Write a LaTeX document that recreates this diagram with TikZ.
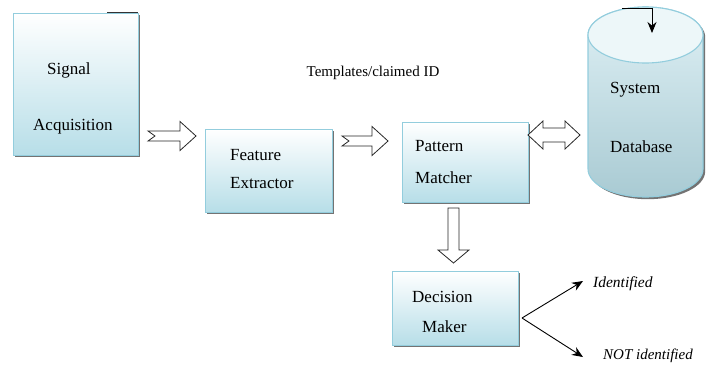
\documentclass[tikz,border=0pt]{standalone}
\usepackage{fontspec}
\setmainfont{Liberation Serif}
\usetikzlibrary{calc,shadows,arrows.meta}
\definecolor{boxblue}{HTML}{B7DEE8}
\definecolor{edgeblue}{HTML}{93CDDD}
\newcommand{\notchedarrow}[2]{%
  \draw[hollow] let \p1=(#1), \p2=(#2) in
    (\x1,\y1+5pt) -- (\x2-16pt,\y1+5pt) -- (\x2-16pt,\y1+14.5pt) -- (\x2,\y1)
    -- (\x2-16pt,\y1-14.5pt) -- (\x2-16pt,\y1-5pt) -- (\x1,\y1-5pt) -- (\x1+7pt,\y1) -- cycle;}
\begin{document}
\begin{tikzpicture}[x=1pt,y=-1pt,
  box/.style={draw=edgeblue, line width=0.9pt, top color=white, bottom color=boxblue,
    drop shadow={shadow xshift=2.2pt,shadow yshift=-2.2pt,fill=black!55,opacity=1},
    inner sep=0pt},
  lbl/.style={font=\fontsize{17}{20}\selectfont, anchor=west, inner sep=0pt},
  outlbl/.style={font=\fontsize{15}{18}\selectfont, inner sep=0pt},
  hollow/.style={draw=black!85, fill=white, line width=0.8pt, line join=miter},
  thin/.style={draw=black, line width=0.9pt, -{Stealth[length=11pt,width=9pt]}},
  cylfill/.style={draw=edgeblue, line width=1.1pt, top color=white!55!boxblue, bottom color=boxblue!90!black!95}]
\useasboundingbox (0,0) rectangle (713,365);

% boxes
\node[box, minimum width=125, minimum height=142] (sig) at (75.5,84) {};
\node[box, minimum width=127, minimum height=83] (feat) at (268.5,170.5) {};
\node[box, minimum width=126, minimum height=80] (pat) at (465,162) {};
\node[box, minimum width=126, minimum height=74] (dec) at (455,308) {};
\draw[black!80, line width=1.3pt] ([xshift=-31pt]sig.north east) -- (sig.north east);

% cylinder
\node[minimum width=115, minimum height=190, inner sep=0pt] (db) at (645.5,102) {};
\fill[black!55] (590.2,37.2) -- (590.2,171.2) arc[start angle=180,end angle=0,x radius=57.5,y radius=28]
  -- (705.2,37.2) arc[start angle=0,end angle=-180,x radius=57.5,y radius=28] -- cycle;
\path[cylfill] (588,35) -- (588,169) arc[start angle=180,end angle=0,x radius=57.5,y radius=28]
  -- (703,35) arc[start angle=0,end angle=-180,x radius=57.5,y radius=28] -- cycle;
\draw[edgeblue, line width=1.1pt, fill=white!75!boxblue] (645.5,35) ellipse[x radius=57.5, y radius=28];

% labels
\node[lbl] (t1) at (47,70) {Signal};
\node[lbl] (t2) at (33,127) {Acquisition};
\node[lbl] (t3) at (230,155) {Feature};
\node[lbl] (t4) at (230,183) {Extractor};
\node[lbl] (t5) at (415,146) {Pattern};
\node[lbl] (t6) at (415,178) {Matcher};
\node[lbl] (t7) at (610,90) {System};
\node[lbl] (t8) at (610,147) {Database};
\node[lbl] (t9) at (412,297) {Decision};
\node[lbl] (t10) at (422,327) {Maker};
\node[outlbl] (tmpl) at (373,73) {Templates/claimed ID};
\node[outlbl, font=\fontsize{15.5}{18}\selectfont\itshape, anchor=west] (idf) at (593,284) {Identified};
\node[outlbl, font=\fontsize{15}{18}\selectfont\itshape, anchor=west] (nidf) at (603,356) {NOT identified};

% block arrows
\coordinate (a1s) at (148,136);
\coordinate (a1e) at (196,136);
\notchedarrow{a1s}{a1e}
\coordinate (a2s) at (342,141);
\coordinate (a2e) at (388,141);
\notchedarrow{a2s}{a2e}
\coordinate (a3s) at (528,135);
\coordinate (a3e) at (580,135);
\draw[hollow] let \p1=(a3s), \p2=(a3e) in
  (\x1,\y1) -- (\x1+15pt,\y1+14pt) -- (\x1+15pt,\y1+7pt) -- (\x2-15pt,\y1+7pt) -- (\x2-15pt,\y1+14pt)
  -- (\x2,\y1) -- (\x2-15pt,\y1-14pt) -- (\x2-15pt,\y1-7pt) -- (\x1+15pt,\y1-7pt) -- (\x1+15pt,\y1-14pt) -- cycle;
\coordinate (a4s) at (453.5,208);
\coordinate (a4e) at (453.5,263);
\draw[hollow] let \p1=(a4s), \p2=(a4e) in
  (\x1-5.5pt,\y1) -- (\x1+5.5pt,\y1) -- (\x1+5.5pt,\y2+13pt) -- (\x1+15.5pt,\y2+13pt) -- (\x1,\y2)
  -- (\x1-15.5pt,\y2+13pt) -- (\x1-5.5pt,\y2+13pt) -- cycle;

% decision outputs
\coordinate (split) at (522,318);
\coordinate (idtip) at (583,281);
\coordinate (nidtip) at (583,357);
\draw[thin] (split) -- (idtip);
\draw[thin] (split) -- (nidtip);

% top arrow into database
\coordinate (dbin) at (622,8);
\coordinate (dbtip) at (652,33);
\draw[thin] (dbin) -- (dbin -| dbtip) -- (dbtip);
\end{tikzpicture}
\end{document}
